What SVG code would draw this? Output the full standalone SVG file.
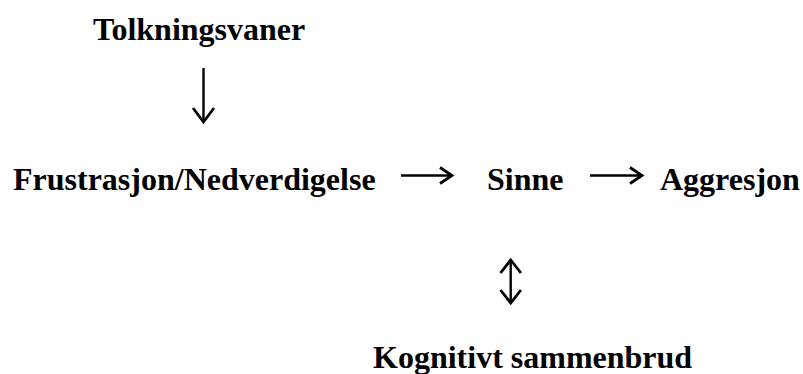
<svg xmlns="http://www.w3.org/2000/svg" width="803" height="374" viewBox="0 0 803 374">
<style>
.t{font-family:"Liberation Serif","Times New Roman",serif;font-weight:bold;font-size:32px;fill:#000}
.c{fill:none;stroke:#000;stroke-width:2.4}
.h{fill:none;stroke:#000;stroke-width:2.8;stroke-linejoin:miter}
</style>
<rect width="803" height="374" fill="#fff"/>
<g id="tolkningsvaner"><text class="t" x="93" y="40">Tolkningsvaner</text></g>
<g id="frustrasjon"><text class="t" x="13" y="190">Frustrasjon/Nedverdigelse</text></g>
<g id="sinne"><text class="t" x="487" y="190">Sinne</text></g>
<g id="aggresjon"><text class="t" x="660" y="190">Aggresjon</text></g>
<g id="kognitivt"><text class="t" x="373" y="368">Kognitivt sammenbrud</text></g>
<g id="connectors">
<path class="c" d="M203.5,68 V121"/>
<path class="h" d="M193,108 L203.5,122 L214,108"/>
<path class="c" d="M401,175.5 H452"/>
<path class="h" d="M440,167.5 L452,175.5 L440,183.5"/>
<path class="c" d="M590,175.5 H642"/>
<path class="h" d="M630,167.5 L642,175.5 L630,183.5"/>
<path class="c" d="M510.7,261 V302"/>
<path class="h" d="M500.5,273 L510.7,260 L520.9,273"/>
<path class="h" d="M500.5,290 L510.7,303 L520.9,290"/>
</g>
</svg>
